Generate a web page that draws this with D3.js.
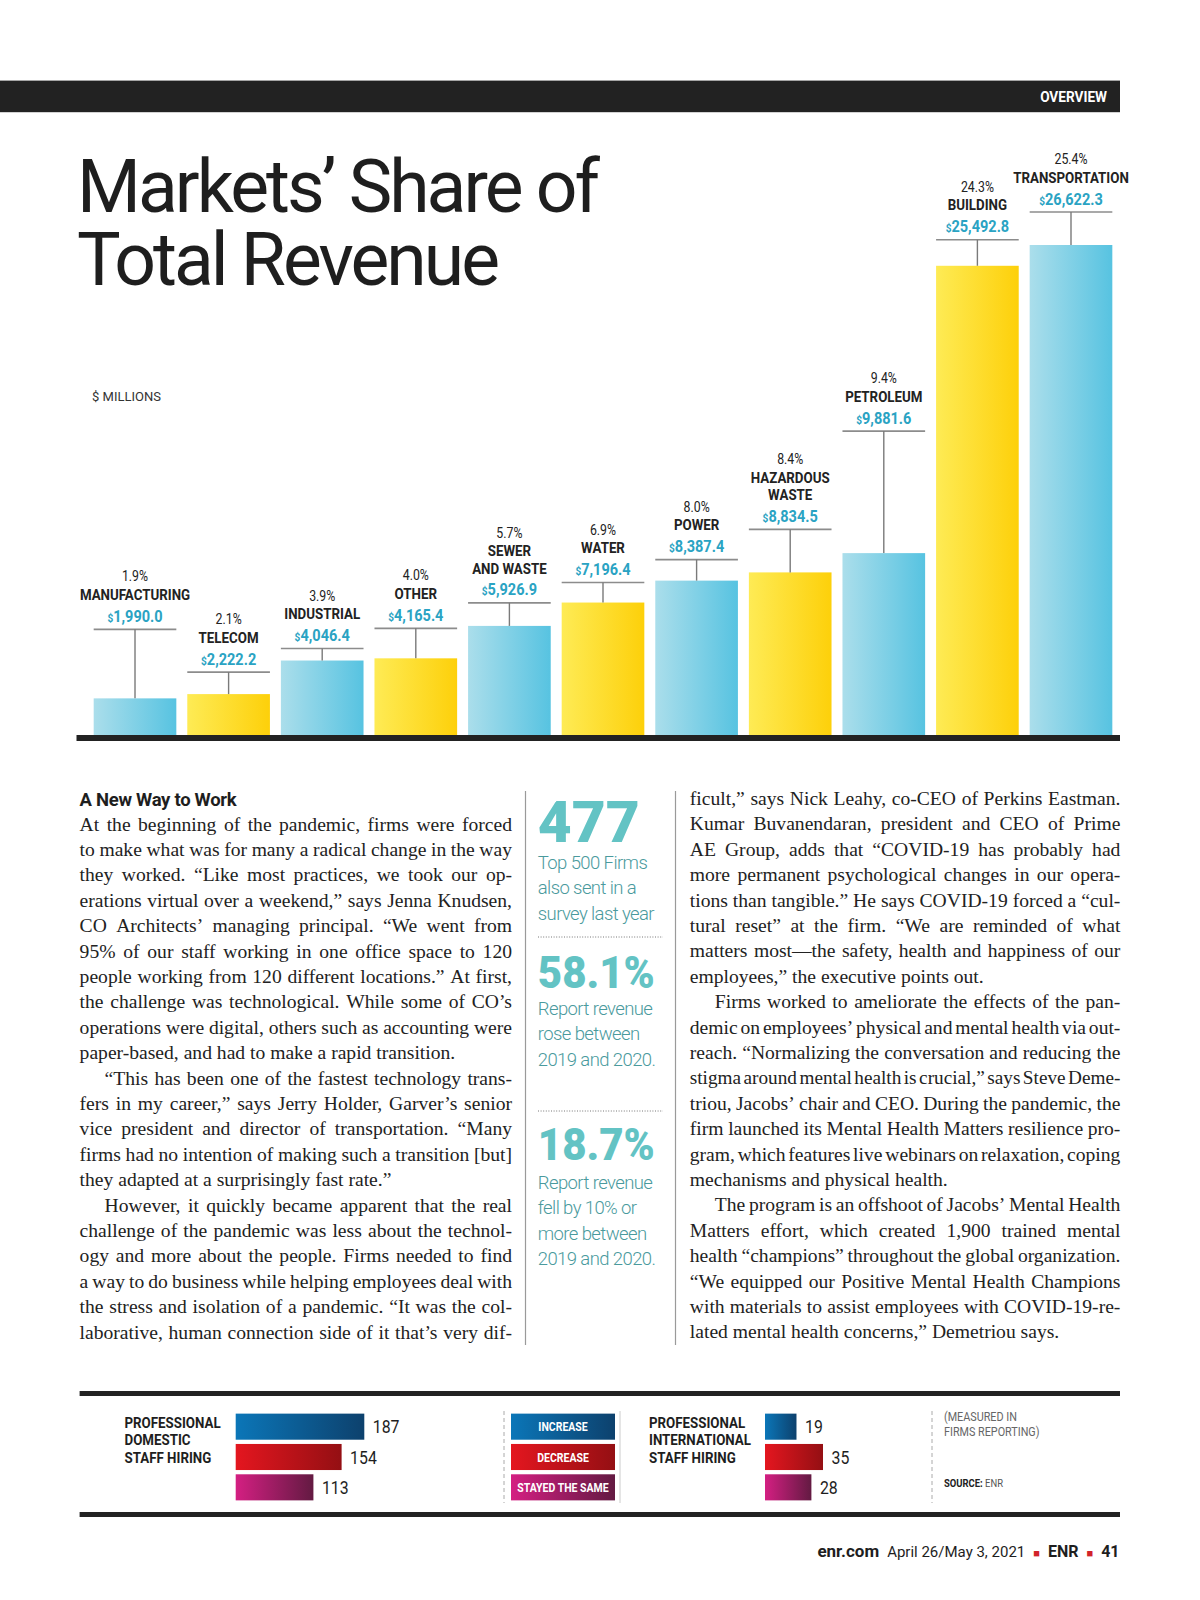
<!DOCTYPE html>
<html>
<head>
<meta charset="utf-8">
<script src="https://cdn.jsdelivr.net/npm/d3@7"></script>
<style>
  body { margin: 0; background: #fff; }
  svg { display: block; }
</style>
</head>
<body>
<svg id="page" width="1200" height="1600"></svg>
<script>
// ---- data ----
const markets = ["MANUFACTURING", "TELECOM", "INDUSTRIAL", "OTHER", "SEWER\nAND WASTE", "WATER",
                 "POWER", "HAZARDOUS\nWASTE", "PETROLEUM", "BUILDING", "TRANSPORTATION"];
const revenue = [1990.0, 2222.2, 4046.4, 4165.4, 5926.9, 7196.4, 8387.4, 8834.5, 9881.6, 25492.8, 26622.3];
const share = [1.9, 2.1, 3.9, 4.0, 5.7, 6.9, 8.0, 8.4, 9.4, 24.3, 25.4];

const hiringCategories = ["INCREASE", "DECREASE", "STAYED THE SAME"];
const domesticHiring = [187, 154, 113];
const internationalHiring = [19, 35, 28];

const callouts = [
    {big: "477", lines: ["Top 500 Firms", "also sent in a", "survey last year"]},
    {big: "58.1%", lines: ["Report revenue", "rose between", "2019 and 2020."]},
    {big: "18.7%", lines: ["Report revenue", "fell by 10% or", "more between", "2019 and 2020."]}
];

// body copy, one entry per printed line; ">" = indented first line, "$" = last line of paragraph
const leftColumn = [
    "At the beginning of the pandemic, firms were forced",
    "to make what was for many a radical change in the way",
    "they worked. “Like most practices, we took our op-",
    "erations virtual over a weekend,” says Jenna Knudsen,",
    "CO Architects’ managing principal. “We went from",
    "95% of our staff working in one office space to 120",
    "people working from 120 different locations.” At first,",
    "the challenge was technological. While some of CO’s",
    "operations were digital, others such as accounting were",
    "$paper-based, and had to make a rapid transition.",
    ">“This has been one of the fastest technology trans-",
    "fers in my career,” says Jerry Holder, Garver’s senior",
    "vice president and director of transportation. “Many",
    "firms had no intention of making such a transition [but]",
    "$they adapted at a surprisingly fast rate.”",
    ">However, it quickly became apparent that the real",
    "challenge of the pandemic was less about the technol-",
    "ogy and more about the people. Firms needed to find",
    "a way to do business while helping employees deal with",
    "the stress and isolation of a pandemic. “It was the col-",
    "laborative, human connection side of it that’s very dif-"
];
const rightColumn = [
    "ficult,” says Nick Leahy, co-CEO of Perkins Eastman.",
    "Kumar Buvanendaran, president and CEO of Prime",
    "AE Group, adds that “COVID-19 has probably had",
    "more permanent psychological changes in our opera-",
    "tions than tangible.” He says COVID-19 forced a “cul-",
    "tural reset” at the firm. “We are reminded of what",
    "matters most—the safety, health and happiness of our",
    "$employees,” the executive points out.",
    ">Firms worked to ameliorate the effects of the pan-",
    "demic on employees’ physical and mental health via out-",
    "reach. “Normalizing the conversation and reducing the",
    "stigma around mental health is crucial,” says Steve Deme-",
    "triou, Jacobs’ chair and CEO. During the pandemic, the",
    "firm launched its Mental Health Matters resilience pro-",
    "gram, which features live webinars on relaxation, coping",
    "$mechanisms and physical health.",
    ">The program is an offshoot of Jacobs’ Mental Health",
    "Matters effort, which created 1,900 trained mental",
    "health “champions” throughout the global organization.",
    "“We equipped our Positive Mental Health Champions",
    "with materials to assist employees with COVID-19-re-",
    "$lated mental health concerns,” Demetriou says."
];

// hand placed leader lengths (px) between label rule and bar top
const leaderPx = [69, 22, 12, 30, 23, 20, 21, 43, 122, 26, 33];

const SANS = "Roboto, 'Liberation Sans', sans-serif";
const SERIF = "'Liberation Serif', 'DejaVu Serif', serif";

let svg = d3.select("#page");
svg.append("rect").attr("width", 1200).attr("height", 1600).attr("fill", "#fff");

let defs = svg.append("defs");
function grad(id, c0, c1) {
    let g = defs.append("linearGradient").attr("id", id)
        .attr("x1", 0).attr("x2", 1).attr("y1", 0).attr("y2", 0);
    g.append("stop").attr("offset", "0%").attr("stop-color", c0);
    g.append("stop").attr("offset", "100%").attr("stop-color", c1);
}
grad("gBlue", "#abdeeb", "#57c3e1");
grad("gYellow", "#feeb55", "#fdd00a");
grad("gInc", "#0b76b8", "#0d416d");
grad("gDec", "#e4161f", "#940f13");
grad("gSame", "#d41f82", "#631a42");

// condensed-looking text: scale glyphs horizontally
function ctext(parent, x, y, str, size, weight, fill, anchor, sx) {
    return parent.append("text")
        .attr("transform", "translate(" + x + "," + y + ") scale(" + sx + ",1)")
        .attr("text-anchor", anchor)
        .attr("font-family", SANS)
        .attr("font-size", size)
        .attr("font-weight", weight)
        .attr("fill", fill)
        .text(str);
}

// ---- header ----
svg.append("rect").attr("x", 0).attr("y", 80.6).attr("width", 1120).attr("height", 31.6).attr("fill", "#222");
ctext(svg, 1107, 101.5, "OVERVIEW", 15.5, 700, "#fff", "end", 0.88);

let title = svg.append("g").attr("font-family", SANS).attr("font-weight", 400).attr("fill", "#1e1e1e")
    .attr("letter-spacing", -3);
title.append("text").attr("x", 77).attr("y", 212).attr("font-size", 74)
    .attr("textLength", 520).attr("lengthAdjust", "spacingAndGlyphs").text("Markets’ Share of");
title.append("text").attr("x", 77).attr("y", 285).attr("font-size", 74)
    .attr("textLength", 420).attr("lengthAdjust", "spacingAndGlyphs").text("Total Revenue");

svg.append("text").attr("x", 92).attr("y", 401).attr("font-family", SANS).attr("font-size", 13)
    .attr("fill", "#333").text("$ MILLIONS");

// ---- bar chart ----
let rows = markets.map(function(m, i) {
    return {name: m, lines: m.split("\n"), rev: revenue[i], pct: share[i], lead: leaderPx[i], i: i};
});

let x = d3.scaleBand().domain(markets).range([89, 1117]).paddingInner(0.117).paddingOuter(0.05);
let y = d3.scaleLinear().domain([0, d3.max(revenue)]).range([735, 245]);
let bw = x.bandwidth();

let chart = svg.append("g");
chart.selectAll(".bar").data(rows).enter().append("rect")
    .attr("class", "bar")
    .attr("x", function(d) { return x(d.name); })
    .attr("width", bw)
    .attr("y", function(d) { return y(d.rev); })
    .attr("height", function(d) { return y(0) - y(d.rev); })
    .attr("fill", function(d) { return d.i % 2 === 0 ? "url(#gBlue)" : "url(#gYellow)"; });

chart.append("rect").attr("x", 76.5).attr("y", y(0)).attr("width", 1120 - 76.5).attr("height", 6).attr("fill", "#222");

let fmt = d3.format(",.1f");
rows.forEach(function(d) {
    let left = x(d.name);
    let cx = left + bw / 2;
    let ruleY = y(d.rev) - d.lead;
    chart.append("line").attr("x1", left).attr("x2", left + bw).attr("y1", ruleY).attr("y2", ruleY)
        .attr("stroke", "#8c8c8c").attr("stroke-width", 1.6);
    chart.append("line").attr("x1", cx).attr("x2", cx).attr("y1", ruleY).attr("y2", y(d.rev))
        .attr("stroke", "#7a7a7a").attr("stroke-width", 1.4);

    let v = ctext(chart, cx, ruleY - 7.5, "", 16.5, 700, "#2aa3c3", "middle", 0.88);
    v.append("tspan").attr("font-size", 11.5).text("$");
    v.append("tspan").text(fmt(d.rev));

    let nl = d.lines.length;
    d.lines.forEach(function(line, k) {
        ctext(chart, cx, ruleY - 29.3 - 17.3 * (nl - 1 - k), line, 15.5, 700, "#222", "middle", 0.86);
    });
    ctext(chart, cx, ruleY - 48 - 17.3 * (nl - 1), d3.format(".1f")(d.pct) + "%", 14, 400, "#222", "middle", 0.88);
});

// ---- article text ----
let textG = svg.append("g");
textG.append("text").attr("x", 79.6).attr("y", 805.5).attr("font-family", SANS).attr("font-weight", 700)
    .attr("font-size", 18.5).attr("fill", "#1e1e1e").attr("letter-spacing", -0.3).text("A New Way to Work");

function justifyLine(parent, raw, x0, width, yb, size) {
    let indent = 0, last = false, str = raw;
    if (str[0] === ">") { indent = 25; str = str.slice(1); }
    if (str[0] === "$") { last = true; str = str.slice(1); }
    let t = parent.append("text").attr("y", yb).attr("font-family", SERIF)
        .attr("font-size", size).attr("fill", "#222");
    let words = str.split(" ");
    let spans = words.map(function(w) { return t.append("tspan").text(w); });
    let widths = spans.map(function(s) { return s.node().getComputedTextLength(); });
    let total = d3.sum(widths);
    let avail = width - indent;
    let gap = size * 0.25;
    if (!last && words.length > 1) gap = (avail - total) / (words.length - 1);
    if (gap < 2.5) {
        // too tight: squeeze glyphs a bit
        gap = 2.5;
        let k = (avail - gap * (words.length - 1)) / total;
        widths = widths.map(function(w) { return w * k; });
        spans.forEach(function(s, j) { s.attr("textLength", widths[j]).attr("lengthAdjust", "spacingAndGlyphs"); });
    }
    let cx = x0 + indent;
    spans.forEach(function(s, j) { s.attr("x", cx); cx += widths[j] + gap; });
}

const BODY = 19.6, LEAD = 25.4;
leftColumn.forEach(function(line, i) { justifyLine(textG, line, 79.6, 432.4, 830.5 + i * LEAD, BODY); });
rightColumn.forEach(function(line, i) { justifyLine(textG, line, 689.8, 430.6, 805 + i * LEAD, BODY); });

// ---- middle callout column ----
let mid = svg.append("g");
[525.5, 675.5].forEach(function(xx) {
    mid.append("line").attr("x1", xx).attr("x2", xx).attr("y1", 791).attr("y2", 1345)
        .attr("stroke", "#9a9a9a").attr("stroke-width", 1.2);
});
let bigY = [842, 988, 1160];
let bigW = [102, 117, 117];
let bigSize = [57, 44, 44];
let firstLine = [868.5, 1014.5, 1188.5];
callouts.forEach(function(c, i) {
    mid.append("text").attr("x", 537.8).attr("y", bigY[i]).attr("font-family", SANS).attr("font-weight", 900)
        .attr("font-size", bigSize[i]).attr("fill", "#63c3c4")
        .attr("textLength", bigW[i]).attr("lengthAdjust", "spacingAndGlyphs").text(c.big);
    c.lines.forEach(function(l, k) {
        mid.append("text").attr("x", 537.8).attr("y", firstLine[i] + k * 25.5).attr("font-family", SANS)
            .attr("font-weight", 300).attr("font-size", 18.5).attr("letter-spacing", -0.6)
            .attr("fill", "#4a9a9d").text(l);
    });
});
[937, 1111].forEach(function(yy) {
    mid.append("line").attr("x1", 538).attr("x2", 663).attr("y1", yy).attr("y2", yy)
        .attr("stroke", "#777").attr("stroke-width", 1).attr("stroke-dasharray", "1,1.6");
});

// ---- hiring strip ----
let strip = svg.append("g");
strip.append("rect").attr("x", 79.6).attr("y", 1391).attr("width", 1040.4).attr("height", 5).attr("fill", "#222");
strip.append("rect").attr("x", 79.6).attr("y", 1512).attr("width", 1040.4).attr("height", 5).attr("fill", "#222");

let band = d3.scaleBand().domain(hiringCategories).range([1411.5, 1502.5]).paddingInner(0.14).paddingOuter(0.07);
let fills = ["url(#gInc)", "url(#gDec)", "url(#gSame)"];

let xDom = d3.scaleLinear().domain([0, d3.max(domesticHiring)]).range([235.7, 364.3]);
let xInt = d3.scaleLinear().domain([0, d3.max(internationalHiring)]).range([765, 823]);

function hiringPanel(labelX, lines, values, xs) {
    lines.forEach(function(l, k) {
        ctext(strip, labelX, 1428 + k * 17.3, l, 15.5, 700, "#1e1e1e", "start", 0.86);
    });
    hiringCategories.forEach(function(cat, i) {
        let x0 = xs.range()[0];
        strip.append("rect").attr("x", x0).attr("y", band(cat)).attr("width", xs(values[i]) - x0)
            .attr("height", band.bandwidth()).attr("fill", fills[i]);
        ctext(strip, xs(values[i]) + 8.5, band(cat) + band.bandwidth() / 2 + 6.5, values[i], 18, 400, "#1e1e1e", "start", 0.88);
    });
}
hiringPanel(124.5, ["PROFESSIONAL", "DOMESTIC", "STAFF HIRING"], domesticHiring, xDom);
hiringPanel(649, ["PROFESSIONAL", "INTERNATIONAL", "STAFF HIRING"], internationalHiring, xInt);

// legend
hiringCategories.forEach(function(cat, i) {
    strip.append("rect").attr("x", 511).attr("y", band(cat)).attr("width", 104).attr("height", band.bandwidth())
        .attr("fill", fills[i]);
    ctext(strip, 563, band(cat) + band.bandwidth() / 2 + 4.5, cat, 12.5, 700, "#fff", "middle", 0.84);
});
[504, 932].forEach(function(xx) {
    strip.append("line").attr("x1", xx).attr("x2", xx).attr("y1", 1411).attr("y2", 1503)
        .attr("stroke", "#aaa").attr("stroke-width", 1).attr("stroke-dasharray", "4,3");
});
strip.append("line").attr("x1", 620).attr("x2", 620).attr("y1", 1411).attr("y2", 1503)
    .attr("stroke", "#ccc").attr("stroke-width", 1);

ctext(strip, 944, 1421, "(MEASURED IN", 12, 400, "#666", "start", 0.9);
ctext(strip, 944, 1436, "FIRMS REPORTING)", 12, 400, "#666", "start", 0.9);
let src = ctext(strip, 944, 1487, "", 10.5, 400, "#555", "start", 0.9);
src.append("tspan").attr("font-weight", 700).attr("fill", "#222").text("SOURCE:");
src.append("tspan").text(" ENR");

// ---- footer ----
let foot = svg.append("text").attr("x", 1119.5).attr("y", 1557).attr("text-anchor", "end")
    .attr("font-family", SANS).attr("fill", "#1e1e1e");
foot.append("tspan").attr("font-weight", 700).attr("font-size", 17).text("enr.com");
foot.append("tspan").attr("font-size", 15).attr("dx", 8).text("April 26/May 3, 2021");
foot.append("tspan").attr("font-size", 11).attr("fill", "#d2232a").attr("dx", 8).text("■");
foot.append("tspan").attr("font-weight", 700).attr("font-size", 16).attr("dx", 8).text("ENR");
foot.append("tspan").attr("font-size", 11).attr("fill", "#d2232a").attr("dx", 8).text("■");
foot.append("tspan").attr("font-weight", 700).attr("font-size", 16).attr("dx", 8).text("41");
</script>
</body>
</html>
